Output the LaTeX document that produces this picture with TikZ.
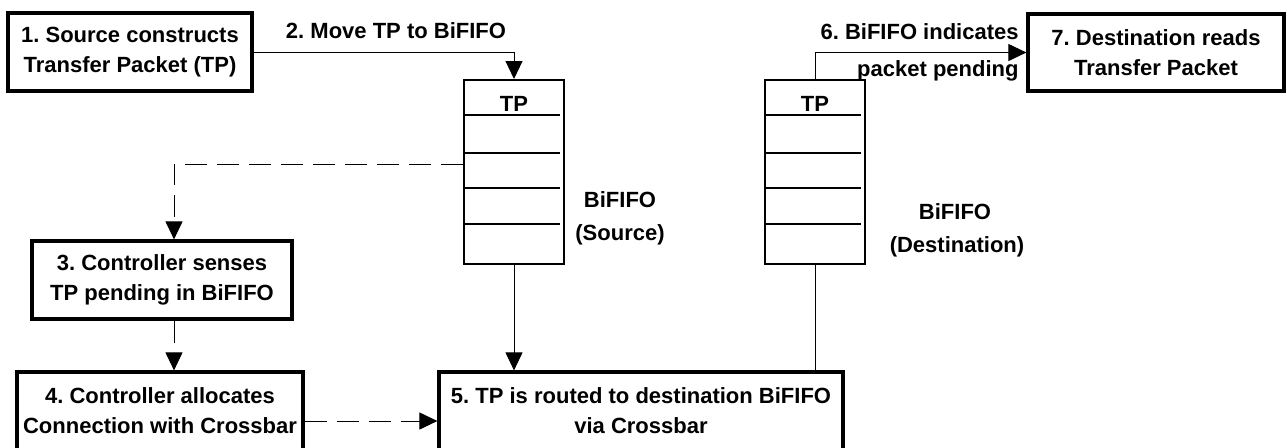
\documentclass[tikz,border=0pt]{standalone}
\usepackage{fontspec}
\setmainfont{Liberation Sans}
\usetikzlibrary{arrows.meta,positioning,calc}
\frenchspacing

\begin{document}
\begin{tikzpicture}[x=0.5pt, y=-0.5pt, >={Triangle[length=9pt,width=8.5pt]},
  every node/.style={font=\fontsize{11}{15}\selectfont\bfseries},
  box/.style={draw, line width=1.6pt, align=center, inner sep=0pt},
  fifo/.style={draw, line width=1pt, minimum width=50pt, minimum height=92pt, inner sep=0pt},
  tag/.style={inner sep=0pt},
  link/.style={->, line width=0.5pt},
  ctl/.style={link, dash pattern=on 11pt off 5pt}]
\useasboundingbox (0,0) rectangle (1287,447);

% steps
\node[box, minimum width=122pt, minimum height=39pt] (src) at (130,52) {1. Source constructs\\Transfer Packet (TP)};
\node[box, minimum width=130pt, minimum height=39pt] (sense) at (162,280) {3. Controller senses\\TP pending in BiFIFO};
\node[box, minimum width=143pt, minimum height=39pt] (alloc) at (160,411) {4. Controller allocates\\Connection with Crossbar};
\node[box, minimum width=202pt, minimum height=39pt] (route) at (641,411) {5. TP is routed to destination BiFIFO\\via Crossbar};
\node[box, minimum width=128pt, minimum height=38.5pt] (dest) at (1156,52.5) {7. Destination reads\\Transfer Packet};

% the two BiFIFOs
\node[fifo] (fs) at (514,172) {};
\node[fifo] (fd) at (815,172) {};
\foreach \f in {fs,fd} {
  \foreach \y in {36,74,109,145}
    \draw[line width=1pt] ($(\f.north west)+(0,\y)$) -- +(97,0);
  \node[anchor=base, tag] at ($(\f.north)+(0,32)$) {TP};
}
\node[anchor=base, tag] (fsname) at (620,207) {BiFIFO};
\node[anchor=base, tag] (fsrole) at (620,240) {(Source)};
\node[anchor=base, tag] (fdname) at (955,219) {BiFIFO};
\node[anchor=base, tag] (fdrole) at (957,252) {(Destination)};

% labels on the links
\node[anchor=base, tag] (move) at (396,38) {2. Move TP to BiFIFO};
\node[anchor=base east, tag] (ind) at (1019,39) {6. BiFIFO indicates};
\node[anchor=base east, tag] (pend) at (1019,76) {packet pending};

% links
\draw[link] (src.east) -| (fs.north);
\draw[ctl] ($(fs.north west)+(0,85)$) -| ([xshift=6pt]sense.north);
\draw[ctl] ([xshift=6pt]sense.south) -- ([xshift=6pt]sense.south |- alloc.north);
\draw[ctl] ([yshift=-5pt]alloc.east) -- ([yshift=-5pt]route.west);
\draw[link] (fs.south) -- (fs.south |- route.north);
\draw[line width=0.5pt] (fd.south |- route.north) -- (fd.south);
\draw[link] (fd.north) |- (dest.west);

\end{tikzpicture}
\end{document}
